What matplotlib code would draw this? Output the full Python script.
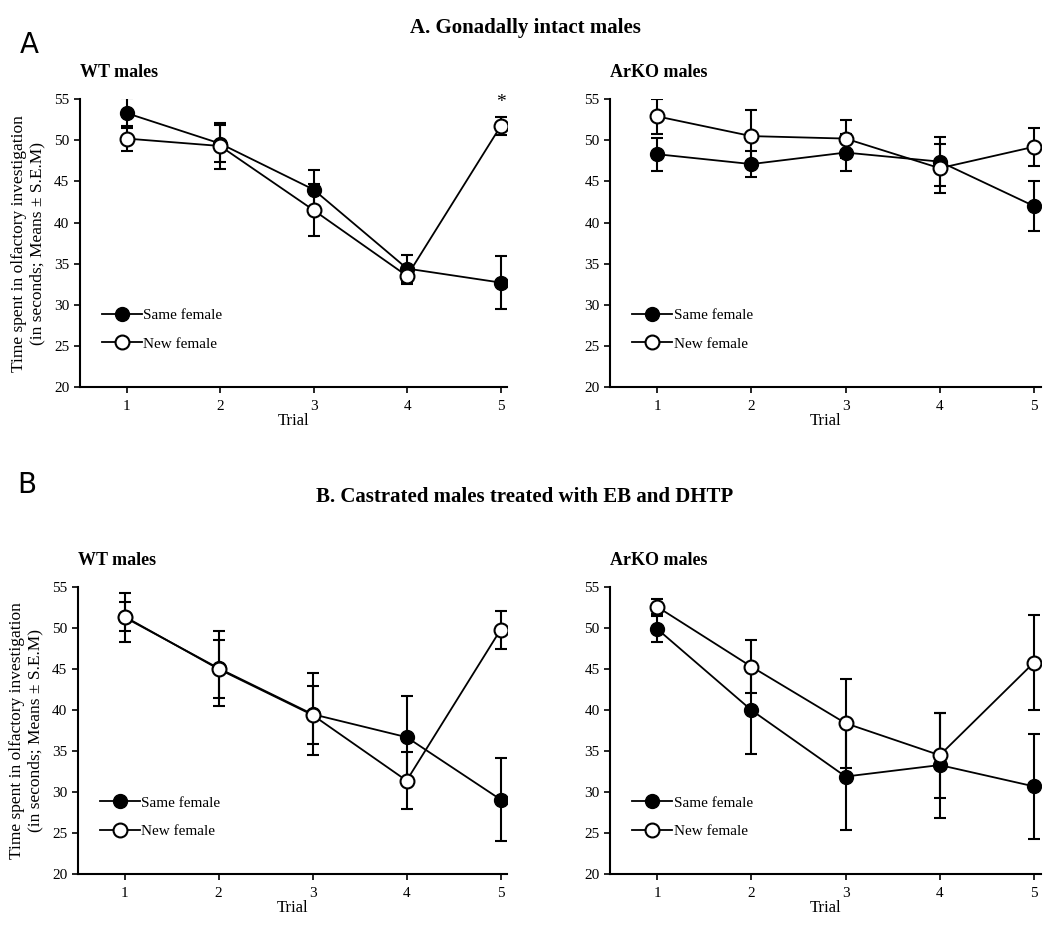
import numpy as np
import matplotlib
matplotlib.use('Agg')
import matplotlib.pyplot as plt
from matplotlib.lines import Line2D

plt.rcParams['font.family'] = ['Liberation Serif', 'DejaVu Serif']

#### DATA ####
trials = [1, 2, 3, 4, 5]

# A. Gonadally intact males
a_wt_same = [53.3, 49.6, 44.0, 34.4, 32.7]
a_wt_same_err = [1.8, 2.3, 2.4, 1.6, 3.2]
a_wt_new = [50.2, 49.3, 41.5, 33.5, 51.7]
a_wt_new_err = [1.5, 2.8, 3.2, 1.0, 1.1]

a_ko_same = [48.3, 47.1, 48.5, 47.4, 42.0]
a_ko_same_err = [2.0, 1.6, 2.3, 3.0, 3.0]
a_ko_new = [52.9, 50.5, 50.2, 46.6, 49.2]
a_ko_new_err = [2.1, 3.2, 2.3, 3.0, 2.3]

# B. Castrated males treated with EB and DHTP
b_wt_same = [51.3, 45.1, 39.5, 36.7, 29.1]
b_wt_same_err = [3.0, 4.6, 5.0, 5.0, 5.1]
b_wt_new = [51.4, 45.0, 39.4, 31.4, 49.8]
b_wt_new_err = [1.8, 3.5, 3.5, 3.5, 2.3]

b_ko_same = [49.9, 40.0, 31.9, 33.3, 30.7]
b_ko_same_err = [1.6, 5.4, 6.5, 6.4, 6.4]
b_ko_new = [52.6, 45.3, 38.4, 34.5, 45.8]
b_ko_new_err = [0.9, 3.2, 5.4, 5.2, 5.8]

yticks = [20, 25, 30, 35, 40, 45, 50, 55]
ylab = 'Time spent in olfactory investigation\n(in seconds; Means \u00b1 S.E.M)'

#### PLOT ####
fig = plt.figure(figsize=(10.5, 9.26), dpi=100)

def panel(rect, same, same_err, new, new_err, subtitle, ylabel=False):
    ax = fig.add_axes(rect)
    ax.errorbar(trials, same, yerr=same_err, fmt='-o', color='black', mfc='black',
                mec='black', ms=10, lw=1.3, elinewidth=1.5, capsize=4, capthick=1.5,
                zorder=3)
    ax.errorbar(trials, new, yerr=new_err, fmt='-o', color='black', mfc='white',
                mec='black', ms=10, mew=1.5, lw=1.3, elinewidth=1.5, capsize=4, capthick=1.5,
                zorder=4)
    ax.set_xlim(0.5, 5.07)
    ax.set_ylim(20, 55)
    ax.set_yticks(yticks)
    ax.set_xticks(trials)
    ax.spines['top'].set_visible(False)
    ax.spines['right'].set_visible(False)
    ax.spines['left'].set_linewidth(1.5)
    ax.spines['bottom'].set_linewidth(1.5)
    ax.tick_params(direction='out', length=4, width=1.2, labelsize=11)
    ax.tick_params(axis='x', pad=5)
    ax.set_xlabel('Trial', fontsize=12, labelpad=0)
    if ylabel:
        ax.set_ylabel(ylab, fontsize=12.5, labelpad=6)
    ax.text(0.0, 1.094, subtitle, transform=ax.transAxes, fontsize=13,
            fontweight='bold', ha='left', va='center')
    handles = [Line2D([], [], color='black', marker='o', mfc='black', mec='black', ms=10, lw=1.3),
               Line2D([], [], color='black', marker='o', mfc='white', mec='black', ms=10,
                      mew=1.5, lw=1.3)]
    ax.legend(handles, ['Same female', 'New female'], loc='upper left',
              bbox_to_anchor=(0.02, 0.32), frameon=False, fontsize=11,
              handlelength=2.6, handletextpad=0.1, labelspacing=0.95)
    return ax

ax1 = panel([0.076, 0.582, 0.407, 0.311], a_wt_same, a_wt_same_err, a_wt_new, a_wt_new_err,
            'WT males', ylabel=True)
ax1.text(5, a_wt_new[4] + a_wt_new_err[4] + 0.7, '*', ha='center', va='bottom', fontsize=14)
ax2 = panel([0.581, 0.582, 0.410, 0.311], a_ko_same, a_ko_same_err, a_ko_new, a_ko_new_err,
            'ArKO males')
ax3 = panel([0.074, 0.056, 0.409, 0.310], b_wt_same, b_wt_same_err, b_wt_new, b_wt_new_err,
            'WT males', ylabel=True)
ax4 = panel([0.581, 0.056, 0.410, 0.310], b_ko_same, b_ko_same_err, b_ko_new, b_ko_new_err,
            'ArKO males')

fig.text(0.5, 0.97, 'A. Gonadally intact males', ha='center', va='center',
         fontsize=15, fontweight='bold')
fig.text(0.5, 0.463, 'B. Castrated males treated with EB and DHTP', ha='center',
         va='center', fontsize=15, fontweight='bold')
fig.text(0.028, 0.951, 'A', ha='center', va='center', fontsize=20, family='DejaVu Sans')
fig.text(0.026, 0.476, 'B', ha='center', va='center', fontsize=20, family='DejaVu Sans')

plt.savefig('out.png', dpi=100)
